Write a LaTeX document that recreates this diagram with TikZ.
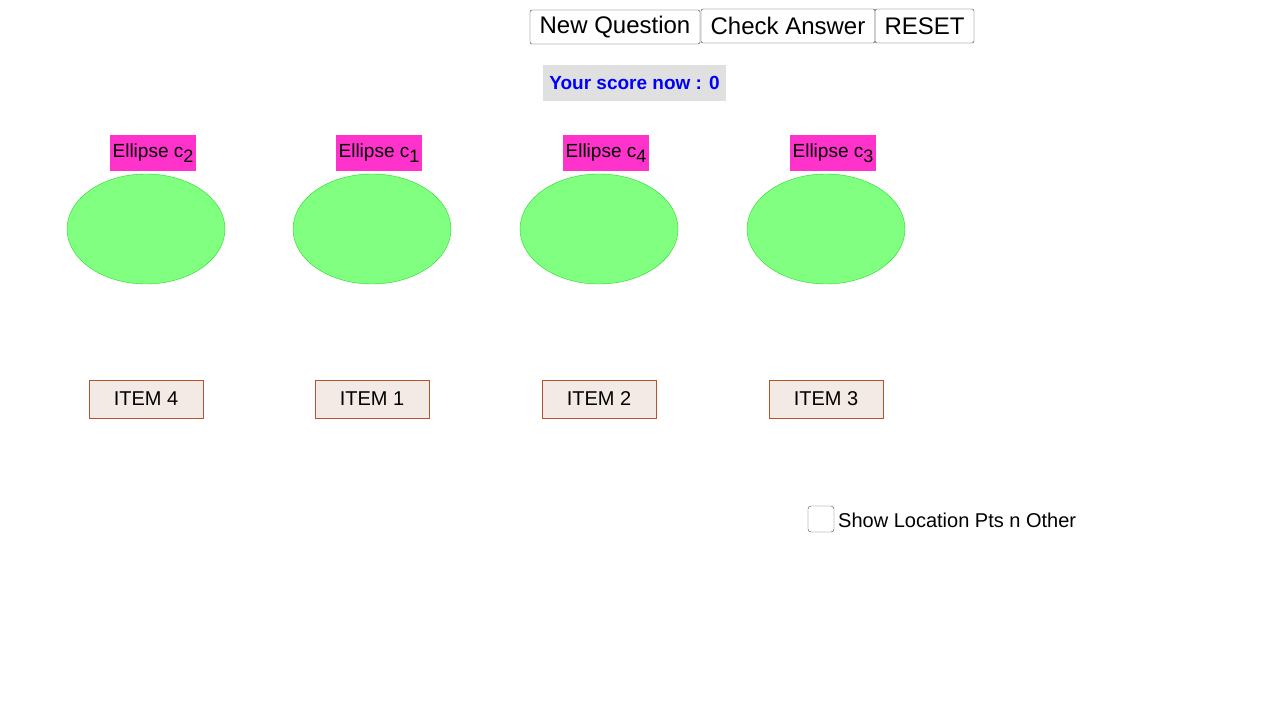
\documentclass[tikz,border=0pt]{standalone}
\usepackage{fontspec}
\setmainfont{Liberation Sans}
\definecolor{ellfill}{HTML}{80FF80}
\definecolor{elldraw}{HTML}{22DD22}
\definecolor{lblfill}{HTML}{FF33CC}
\definecolor{itemfill}{HTML}{F4EAE5}
\definecolor{itemdraw}{HTML}{B5532A}
\newcommand{\sub}[1]{\raisebox{-0.45ex}{\fontsize{18}{20}\selectfont #1}}
\tikzset{
 ell/.style={ellipse,draw=elldraw,fill=ellfill,minimum width=158pt,minimum height=110pt,inner sep=0pt},
 lbl/.style={fill=lblfill,minimum height=36pt,inner xsep=3pt,inner ysep=0pt,font=\fontsize{19}{22}\selectfont},
 item/.style={draw=itemdraw,fill=itemfill,minimum width=114pt,minimum height=38pt,inner sep=0pt,font=\fontsize{20}{24}\selectfont},
 btn/.style={draw=black!80,rounded corners=2pt,minimum height=34pt,inner sep=0pt,font=\fontsize{24}{28}\selectfont},
}
\usetikzlibrary{shapes.geometric}
\begin{document}
\begin{tikzpicture}[x=1pt,y=-1pt]
\useasboundingbox (0,0) rectangle (1273,703);
\node[btn,minimum width=170pt] (nq) at (615,27) {New Question};
\node[btn,minimum width=174pt] (ca) at (788,26) {Check Answer};
\node[btn,minimum width=99pt] (rs) at (924.5,26) {RESET};
\node[fill=black!12,minimum width=183pt,minimum height=36pt,inner sep=0pt,text=blue,font=\bfseries\fontsize{19}{22}\selectfont] (score) at (634.5,83) {Your score now : 0};
\foreach \x/\s/\it/\n in {146/2/4/a,372/1/1/b,599/4/2/c,826/3/3/d}{
  \node[ell] (e\n) at (\x,229) {};
  \node[lbl] (l\n) at (\x+7,153) {Ellipse c\sub{\s}};
  \node[item] (i\n) at (\x,399) {ITEM \it};
}
\node[draw=black!70,rounded corners=3pt,minimum size=26pt,inner sep=0pt] (cb) at (821,519) {};
\node[anchor=west,inner sep=0pt,font=\fontsize{20}{24}\selectfont] (cbl) at (838,520) {Show Location Pts n Other};
\end{tikzpicture}
\end{document}
